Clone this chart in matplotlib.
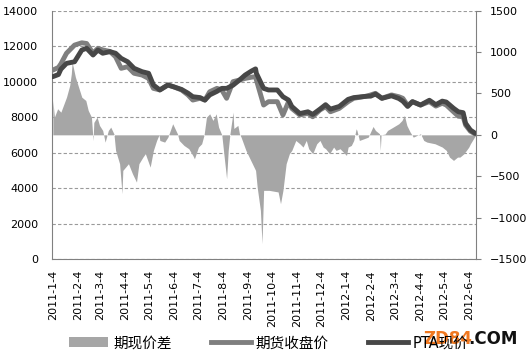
import matplotlib
matplotlib.use("Agg")
import matplotlib.pyplot as plt
import matplotlib.dates as mdates
from matplotlib.ticker import FuncFormatter
from matplotlib.patches import Patch
from matplotlib.lines import Line2D
import pandas as pd

plt.rcParams['font.family'] = ['DejaVu Sans', 'Noto Sans CJK SC']

# 期货收盘价 / PTA现价 (left axis)
line_dates = ["2011-01-04", "2011-01-11", "2011-01-14", "2011-01-21", "2011-01-31", "2011-02-09",
              "2011-02-15", "2011-02-23", "2011-03-01", "2011-03-07", "2011-03-16", "2011-03-23",
              "2011-03-30", "2011-04-07", "2011-04-15", "2011-04-25", "2011-05-03", "2011-05-09",
              "2011-05-17", "2011-05-27", "2011-06-03", "2011-06-13", "2011-06-21", "2011-06-27",
              "2011-07-06", "2011-07-12", "2011-07-18", "2011-07-27", "2011-08-02", "2011-08-08",
              "2011-08-16", "2011-08-24", "2011-08-31", "2011-09-08", "2011-09-13", "2011-09-14",
              "2011-09-20", "2011-09-23", "2011-09-29", "2011-10-10", "2011-10-17", "2011-10-24",
              "2011-10-28", "2011-11-07", "2011-11-17", "2011-11-23", "2011-12-02", "2011-12-09",
              "2011-12-15", "2011-12-26", "2012-01-06", "2012-01-13", "2012-01-30", "2012-02-03",
              "2012-02-09", "2012-02-17", "2012-02-29", "2012-03-09", "2012-03-14", "2012-03-20",
              "2012-03-26", "2012-04-05", "2012-04-16", "2012-04-24", "2012-05-02", "2012-05-07",
              "2012-05-16", "2012-05-22", "2012-05-28", "2012-05-31", "2012-06-06", "2012-06-12"]
futures_close = [10650, 10800, 11000, 11600, 12060, 12190,
                 12150, 11600, 11880, 11790, 11700, 11400,
                 10750, 10840, 10470, 10370, 10180, 9620,
                 9530, 9810, 9710, 9530, 9250, 8960,
                 9060, 8960, 9430, 9620, 9530, 9060,
                 10000, 10090, 10180, 10250, 10280, 10090,
                 9150, 8680, 8870, 8870, 8120, 8870,
                 8490, 8120, 8210, 8020, 8400, 8590,
                 8300, 8490, 8870, 9060, 9190, 9250,
                 9340, 9060, 9250, 9150, 9060, 8650,
                 8870, 8680, 8870, 8620, 8780, 8680,
                 8300, 8050, 8020, 7550, 7200, 7050]
pta_spot = [10280, 10400, 10700, 11030, 11120, 11780,
            11880, 11500, 11780, 11600, 11690, 11600,
            11310, 11120, 10750, 10560, 10470, 9810,
            9530, 9810, 9710, 9560, 9350, 9150,
            9100, 8960, 9250, 9450, 9620, 9620,
            9800, 10090, 10370, 10600, 10720, 10470,
            9900, 9620, 9530, 9530, 9150, 8960,
            8600, 8200, 8300, 8150, 8450, 8700,
            8450, 8600, 9000, 9100, 9180, 9180,
            9300, 9060, 9200, 9050, 8900, 8600,
            8870, 8680, 8950, 8700, 8900, 8850,
            8500, 8300, 8250, 7650, 7270, 7085]

# 期现价差 (right axis)
spread_dates = ["2011-01-04", "2011-01-06", "2011-01-10", "2011-01-14", "2011-01-21", "2011-01-25",
                "2011-01-27", "2011-01-28", "2011-02-01", "2011-02-09", "2011-02-14", "2011-02-17",
                "2011-02-21", "2011-02-23", "2011-02-24", "2011-02-28", "2011-03-03", "2011-03-07",
                "2011-03-10", "2011-03-14", "2011-03-17", "2011-03-21", "2011-03-23", "2011-03-28",
                "2011-03-31", "2011-04-01", "2011-04-08", "2011-04-13", "2011-04-18", "2011-04-21",
                "2011-04-26", "2011-04-29", "2011-05-05", "2011-05-09", "2011-05-13", "2011-05-16",
                "2011-05-17", "2011-05-23", "2011-05-27", "2011-06-02", "2011-06-08", "2011-06-10",
                "2011-06-16", "2011-06-22", "2011-06-27", "2011-06-29", "2011-07-04", "2011-07-08",
                "2011-07-11", "2011-07-14", "2011-07-18", "2011-07-22", "2011-07-26", "2011-07-29",
                "2011-08-02", "2011-08-05", "2011-08-08", "2011-08-10", "2011-08-12", "2011-08-16",
                "2011-08-17", "2011-08-22", "2011-08-24", "2011-08-26", "2011-09-01", "2011-09-06",
                "2011-09-09", "2011-09-13", "2011-09-15", "2011-09-19", "2011-09-21", "2011-09-23",
                "2011-09-30", "2011-10-11", "2011-10-14", "2011-10-17", "2011-10-19", "2011-10-21",
                "2011-10-25", "2011-10-28", "2011-11-02", "2011-11-07", "2011-11-11", "2011-11-15",
                "2011-11-18", "2011-11-23", "2011-11-28", "2011-12-02", "2011-12-06", "2011-12-09",
                "2011-12-14", "2011-12-19", "2011-12-22", "2011-12-27", "2012-01-04", "2012-01-06",
                "2012-01-10", "2012-01-13", "2012-01-16", "2012-01-17", "2012-01-20", "2012-01-31",
                "2012-02-06", "2012-02-09", "2012-02-14", "2012-02-15", "2012-02-16", "2012-02-21",
                "2012-02-24", "2012-03-02", "2012-03-09", "2012-03-13", "2012-03-16", "2012-03-19",
                "2012-03-23", "2012-03-27", "2012-04-05", "2012-04-09", "2012-04-13", "2012-04-23",
                "2012-05-02", "2012-05-07", "2012-05-11", "2012-05-16", "2012-05-21", "2012-05-24",
                "2012-05-29", "2012-06-04", "2012-06-06", "2012-06-11", "2012-06-12"]
spread_values = [415, 214, 315, 274, 455, 597,
                 738, 880, 700, 455, 415, 295,
                 214, -70, 150, 214, 114, 53,
                 -88, 53, 93, 10, -188, -349,
                 -711, -430, -349, -470, -571, -349,
                 -269, -228, -390, -188, -68, 0,
                 -68, -88, -28, 134, 10, -68,
                 -128, -168, -249, -289, -148, -108,
                 0, 214, 254, 174, 254, 93,
                 0, -269, -530, -188, 0, 274,
                 77, 114, 10, -28, -188, -289,
                 -349, -430, -632, -913, -1315, -671,
                 -671, -690, -832, -671, -510, -349,
                 -228, -188, -68, -108, -148, -68,
                 -168, -228, -108, -68, -148, -168,
                 -228, -148, -188, -168, -249, -148,
                 -128, -68, 73, 53, -68, -28,
                 101, 53, 13, -188, 0, 10,
                 53, 93, 134, 174, 234, 114,
                 35, -28, 13, -68, -88, -108,
                 -148, -188, -269, -309, -269, -269,
                 -228, -148, -108, -28, -10]

ld = pd.to_datetime(line_dates)
sd = pd.to_datetime(spread_dates)

fig = plt.figure(figsize=(5.27, 3.56), dpi=100)
ax = fig.add_axes([0.0987, 0.2725, 0.8046, 0.6975])
ax2 = ax.twinx()
ax3 = ax.twinx()

gray = '#808080'

# left axis + grid
ax.set_ylim(0, 14000)
ax.set_yticks(range(0, 14001, 2000))
ax.grid(axis='y', color='#9a9a9a', linestyle=(0, (3, 2)), linewidth=0.8)
ax.tick_params(axis='y', length=0, pad=10, labelsize=8)
for s in ['top', 'right']:
    ax.spines[s].set_visible(False)
ax.spines['left'].set_color(gray)
ax.spines['bottom'].set_color(gray)

ax.set_xlim(pd.Timestamp('2011-01-03'), pd.Timestamp('2012-06-13'))
ax.xaxis.set_major_locator(mdates.MonthLocator(bymonthday=4))
ax.xaxis.set_major_formatter(FuncFormatter(
    lambda v, pos: "{0}-{1}-{2}".format(mdates.num2date(v).year, mdates.num2date(v).month, mdates.num2date(v).day)))
ax.tick_params(axis='x', length=0, pad=8, labelsize=8, labelrotation=90)

# spread area (right axis)
ax2.fill_between(sd, spread_values, 0, color='#a6a6a6', linewidth=0)
ax2.set_ylim(-1500, 1500)
ax2.set_yticks(range(-1500, 1501, 500))
ax2.tick_params(axis='y', direction='out', length=3.5, pad=6.5, labelsize=8, color=gray)
for s in ['top', 'left', 'bottom']:
    ax2.spines[s].set_visible(False)
ax2.spines['right'].set_color(gray)

# price lines on top
ax3.plot(ld, futures_close, color='#7f7f7f', lw=3.5, solid_joinstyle='round', solid_capstyle='round')
ax3.plot(ld, pta_spot, color='#474747', lw=3.5, solid_joinstyle='round', solid_capstyle='round')
ax3.set_ylim(0, 14000)
ax3.set_yticks([])
for s in ax3.spines.values():
    s.set_visible(False)

handles = [Patch(facecolor='#a6a6a6', edgecolor='none'),
           Line2D([], [], color='#7f7f7f', lw=3.5),
           Line2D([], [], color='#474747', lw=3.5)]
labels = ['期现价差', '期货收盘价', 'PTA现价']
fig.legend(handles, labels, loc='center', bbox_to_anchor=(0.51, 0.037), ncol=3, frameon=False,
           fontsize=10.5, handlelength=2.7, handletextpad=0.35, columnspacing=2.7)

fig.text(0.803, 0.034, 'ZD84', color='#f07820', fontsize=12, fontweight='bold', va='baseline')
fig.text(0.888, 0.034, '.COM', color='#111111', fontsize=12, fontweight='bold', va='baseline')

fig.savefig('out.png', dpi=100)
